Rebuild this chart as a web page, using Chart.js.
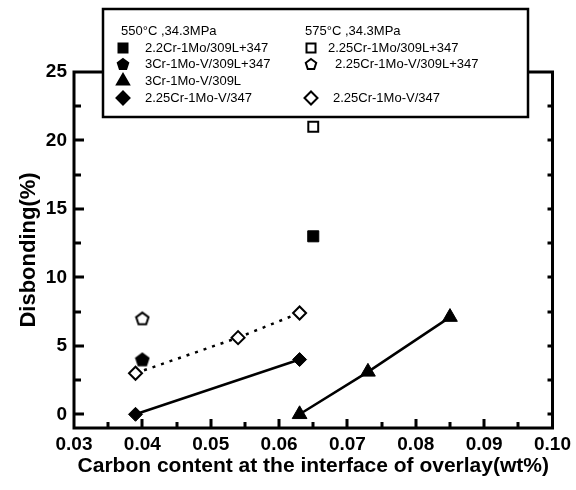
<!DOCTYPE html>
<html><head><meta charset="utf-8">
<script src="https://cdn.jsdelivr.net/npm/chart.js@4.4.1/dist/chart.umd.min.js"></script>
<style>html,body{margin:0;padding:0;background:#fff}#c{display:block}</style>
</head><body>
<canvas id="c" width="576" height="490"></canvas>
<script>
// ---- data ----
const xTickValues = [0.03, 0.04, 0.05, 0.06, 0.07, 0.08, 0.09, 0.10];
const yTickValues = [0, 5, 10, 15, 20, 25];
const legendHeaders = ['550°C ,34.3MPa', '575°C ,34.3MPa'];
const names550 = ['2.2Cr-1Mo/309L+347', '3Cr-1Mo-V/309L+347', '3Cr-1Mo-V/309L', '2.25Cr-1Mo-V/347'];
const names575 = ['2.25Cr-1Mo/309L+347', '2.25Cr-1Mo-V/309L+347', '', '2.25Cr-1Mo-V/347'];

const sq550X = [0.065],  sq550Y = [13];
const sq575X = [0.065],  sq575Y = [21];
const hex550X = [0.040], hex550Y = [4];
const hex575X = [0.040], hex575Y = [7];
const tri550X = [0.063, 0.073, 0.085], tri550Y = [0, 3.1, 7.1];
const dia550X = [0.039, 0.063], dia550Y = [0, 4];
const dia575X = [0.039, 0.054, 0.063], dia575Y = [3, 5.6, 7.4];

const pts = (xs, ys) => xs.map((x, i) => ({x: x, y: ys[i]}));

// pentagon marker images
function pentagonImg(fill) {
  const c = document.createElement('canvas');
  c.width = 16; c.height = 16;
  const g = c.getContext('2d');
  pentPath(g, 8, 8.6, 6.5);
  g.fillStyle = fill; g.fill();
  g.lineWidth = 2; g.strokeStyle = '#000'; g.stroke();
  return c;
}
function pentPath(g, cx, cy, r) {
  g.beginPath();
  for (let i = 0; i < 5; i++) {
    const a = -Math.PI / 2 + i * 2 * Math.PI / 5;
    const px = cx + r * Math.cos(a), py = cy + r * Math.sin(a);
    if (i === 0) g.moveTo(px, py); else g.lineTo(px, py);
  }
  g.closePath();
}
const pentFilled = pentagonImg('#000');
const pentOpen = pentagonImg('#fff');

const FONT = '"Liberation Sans", Arial, Helvetica, sans-serif';

// frame + inward ticks
const framePlugin = {
  id: 'frame',
  beforeDatasetsDraw(chart) {
    const {ctx, chartArea: a, scales: {x, y}} = chart;
    ctx.save();
    ctx.strokeStyle = '#000';
    ctx.lineWidth = 3;
    ctx.lineCap = 'butt';
    ctx.strokeRect(a.left, a.top, a.right - a.left, a.bottom - a.top);
    ctx.beginPath();
    for (let v = 0.035; v < 0.1; v += 0.005) {
      const px = Math.round(x.getPixelForValue(v));
      const major = Math.abs(v * 100 - Math.round(v * 100)) < 1e-6;
      const len = major ? 9 : 6;
      ctx.moveTo(px, a.bottom); ctx.lineTo(px, a.bottom - len);
    }
    for (let v = 0; v < 25; v += 2.5) {
      const py = Math.round(y.getPixelForValue(v));
      const major = v % 5 === 0;
      ctx.moveTo(a.left, py); ctx.lineTo(a.left + (major ? 10 : 7), py);
      ctx.moveTo(a.right, py); ctx.lineTo(a.right - 5, py);
    }
    ctx.stroke();
    ctx.restore();
  }
};

function legendMarker(ctx, kind, cx, cy, filled) {
  ctx.save();
  ctx.fillStyle = filled ? '#000' : '#fff';
  ctx.strokeStyle = '#000';
  ctx.lineWidth = 2;
  ctx.beginPath();
  if (kind === 'rect') {
    ctx.rect(cx - 4.5, cy - 4.5, 9, 9);
  } else if (kind === 'pent') {
    pentPath(ctx, cx, cy + 0.5, 5.5);
  } else if (kind === 'tri') {
    const r = 7;
    ctx.moveTo(cx, cy - r);
    ctx.lineTo(cx + r * 0.866, cy + r * 0.5);
    ctx.lineTo(cx - r * 0.866, cy + r * 0.5);
    ctx.closePath();
  } else if (kind === 'dia') {
    const r = 6.5;
    ctx.moveTo(cx - r, cy); ctx.lineTo(cx, cy - r); ctx.lineTo(cx + r, cy); ctx.lineTo(cx, cy + r);
    ctx.closePath();
  }
  ctx.fill();
  ctx.stroke();
  ctx.restore();
}

const legendPlugin = {
  id: 'boxLegend',
  afterDraw(chart) {
    const ctx = chart.ctx;
    ctx.save();
    const L = 103, T = 9, R = 528, B = 117;
    ctx.fillStyle = '#fff';
    ctx.fillRect(L, T, R - L, B - T);
    ctx.lineWidth = 2.5;
    ctx.strokeStyle = '#000';
    ctx.strokeRect(L, T, R - L, B - T);
    ctx.fillStyle = '#000';
    ctx.font = '13px ' + FONT;
    ctx.textBaseline = 'middle';
    ctx.textAlign = 'left';
    const rows = [48, 64, 81, 98];
    const kinds = ['rect', 'pent', 'tri', 'dia'];
    ctx.fillText(legendHeaders[0], 121, 31);
    ctx.fillText(legendHeaders[1], 305, 31);
    const col2Text = [328, 335, 0, 333];
    for (let i = 0; i < 4; i++) {
      legendMarker(ctx, kinds[i], 123, rows[i], true);
      ctx.fillStyle = '#000';
      ctx.fillText(names550[i], 145, rows[i]);
      if (names575[i]) {
        legendMarker(ctx, kinds[i], 311, rows[i], false);
        ctx.fillStyle = '#000';
        ctx.fillText(names575[i], col2Text[i], rows[i]);
      }
    }
    ctx.restore();
  }
};

const base = {showLine: false, borderColor: '#000', pointBorderColor: '#000', pointBorderWidth: 2};

new Chart(document.getElementById('c'), {
  type: 'scatter',
  data: {
    datasets: [
      Object.assign({}, base, {label: names550[2], data: pts(tri550X, tri550Y), showLine: true, borderWidth: 2.5,
        pointStyle: 'triangle', pointRadius: 8.5, pointBackgroundColor: '#000', pointBorderWidth: 1}),
      Object.assign({}, base, {label: names550[3], data: pts(dia550X, dia550Y), showLine: true, borderWidth: 2.5,
        pointStyle: 'rectRot', pointRadius: 7, pointBackgroundColor: '#000', pointBorderWidth: 1}),
      Object.assign({}, base, {label: names575[3], data: pts(dia575X, dia575Y), showLine: true, borderWidth: 2.5,
        borderDash: [3, 6], pointStyle: 'rectRot', pointRadius: 6.5, pointBackgroundColor: '#fff', pointBorderWidth: 2}),
      Object.assign({}, base, {label: names550[0], data: pts(sq550X, sq550Y),
        pointStyle: 'rect', pointRadius: 7.8, pointBackgroundColor: '#000', pointBorderWidth: 1}),
      Object.assign({}, base, {label: names575[0], data: pts(sq575X, sq575Y),
        pointStyle: 'rect', pointRadius: 7, pointBackgroundColor: '#fff', pointBorderWidth: 2}),
      Object.assign({}, base, {label: names550[1], data: pts(hex550X, hex550Y), pointStyle: pentFilled}),
      Object.assign({}, base, {label: names575[1], data: pts(hex575X, hex575Y), pointStyle: pentOpen})
    ]
  },
  options: {
    responsive: false,
    animation: false,
    clip: false,
    layout: {padding: {left: 0, right: 19, top: 72, bottom: 0}},
    plugins: {legend: {display: false}, tooltip: {enabled: false}},
    scales: {
      x: {
        type: 'linear', min: 0.03, max: 0.10,
        afterBuildTicks: s => { s.ticks = xTickValues.map(v => ({value: v})); },
        afterFit: s => { s.height = 62; },
        grid: {display: false, drawTicks: false},
        border: {display: false},
        ticks: {color: '#000', padding: 5, font: {family: FONT, size: 19, weight: 'bold'},
          callback: v => v.toFixed(2), maxRotation: 0, autoSkip: false},
        title: {display: true, text: 'Carbon content at the interface of overlay(wt%)', color: '#000',
          font: {family: FONT, size: 21, weight: 'bold'}, padding: {top: 0, bottom: 11}}
      },
      y: {
        type: 'linear', min: -1, max: 25,
        afterBuildTicks: s => { s.ticks = yTickValues.map(v => ({value: v})); },
        afterFit: s => { s.width = 74; },
        grid: {display: false, drawTicks: false},
        border: {display: false},
        ticks: {color: '#000', padding: 7, font: {family: FONT, size: 19, weight: 'bold'}, autoSkip: false},
        title: {display: true, text: 'Disbonding(%)', color: '#000',
          font: {family: FONT, size: 22, weight: 'bold'}, padding: {top: 16, bottom: 0}}
      }
    }
  },
  plugins: [framePlugin, legendPlugin]
});
</script>
</body></html>
